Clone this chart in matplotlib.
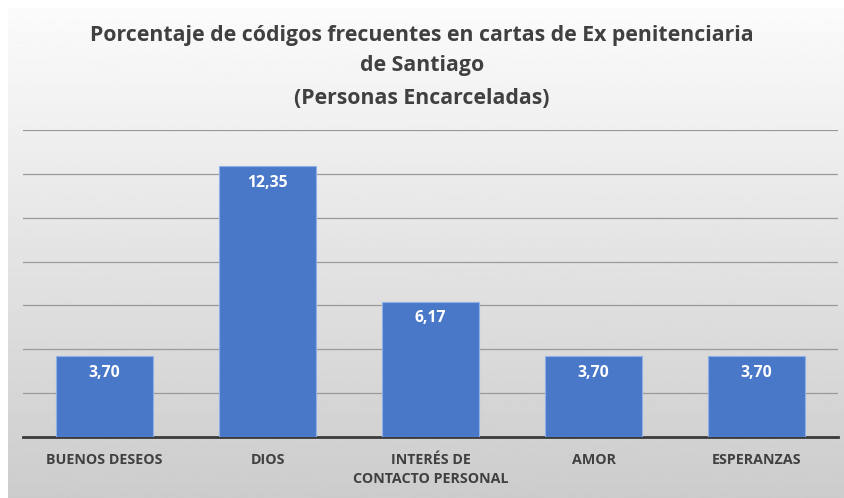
import numpy as np
import matplotlib.pyplot as plt

categorias = ["BUENOS DESEOS", "DIOS", "INTERÉS DE\nCONTACTO PERSONAL", "AMOR", "ESPERANZAS"]
porcentajes = [3.70, 12.35, 6.17, 3.70, 3.70]
etiquetas = ["3,70", "12,35", "6,17", "3,70", "3,70"]

plt.rcParams['font.family'] = ['Open Sans', 'DejaVu Sans']

fig = plt.figure(figsize=(8.44, 4.98), dpi=100)
fig.patch.set_facecolor("white")

# fondo con degradado gris
bg = fig.add_axes([8 / 844, 0, 836 / 844, 490 / 498], zorder=0)
grad = np.linspace(0.985, 0.80, 256).reshape(-1, 1)
bg.imshow(grad, cmap="gray", vmin=0, vmax=1, aspect="auto", extent=[0, 1, 0, 1])
bg.axis("off")

ax = fig.add_axes([23 / 844, 61 / 498, 815 / 844, 307 / 498], zorder=1)
ax.patch.set_alpha(0)

x = np.arange(len(categorias))
barras = ax.bar(x, porcentajes, width=0.6, color="#4A78C9",
                edgecolor="#8fb0e6", linewidth=0.8, zorder=3)

for xi, v, txt in zip(x, porcentajes, etiquetas):
    ax.annotate(txt, (xi, v), xytext=(0, -12), textcoords="offset points",
                ha="center", va="center", color="white",
                fontsize=11.3, fontweight="bold", zorder=4)

ax.set_xlim(-0.5, len(categorias) - 0.5)
ax.set_ylim(0, 14)
ax.set_yticks(np.arange(2, 15, 2))
ax.yaxis.grid(True, color="#9a9a9a", linewidth=0.9, zorder=0)
ax.tick_params(axis="y", left=False, labelleft=False)
ax.tick_params(axis="x", bottom=False, pad=8)
ax.set_xticks(x)
ax.set_xticklabels(categorias, fontsize=10.3, fontweight="bold", color="#404040",
                   linespacing=1.45)

for lado in ["top", "right", "left"]:
    ax.spines[lado].set_visible(False)
ax.spines["bottom"].set_color("#3a3a3a")
ax.spines["bottom"].set_linewidth(2)

fig.text(0.5, 1 - 35 / 498, "Porcentaje de códigos frecuentes en cartas de Ex penitenciaria",
         ha="center", va="center", fontsize=15.3, fontweight="bold", color="#404040")
fig.text(0.5, 1 - 66 / 498, "de Santiago",
         ha="center", va="center", fontsize=15.3, fontweight="bold", color="#404040")
fig.text(0.5, 1 - 98 / 498, "(Personas Encarceladas)",
         ha="center", va="center", fontsize=15.3, fontweight="bold", color="#404040")

fig.savefig("out.png", dpi=100)
plt.close()
